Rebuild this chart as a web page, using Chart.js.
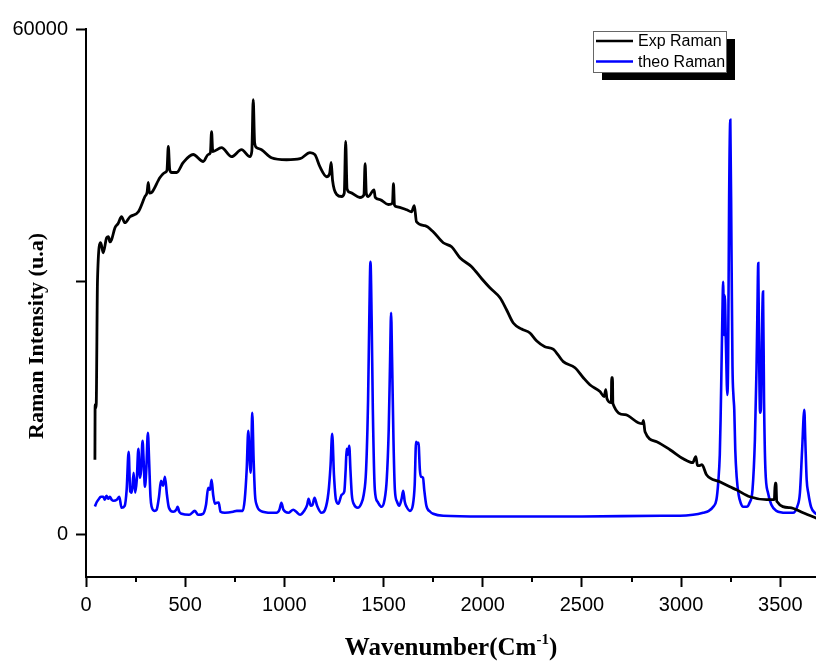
<!DOCTYPE html>
<html>
<head>
<meta charset="utf-8">
<script src="https://cdn.jsdelivr.net/npm/chart.js@4/dist/chart.umd.min.js"></script>
<style>
html, body { margin: 0; padding: 0; background: #fff; }
#wrap { width: 816px; height: 664px; }
</style>
</head>
<body>
<div id="wrap"><canvas id="raman" width="816" height="664"></canvas></div>
<script>
var expWave = [45,46,51,58,74,87,104,113,121,129,146,162,179,196,222,264,297,308,314,320,331,373,398,408,415,422,432,457,490,540,591,616,627,633,639,683,734,784,826,836,843,850,860,885,935,1011,1079,1129,1154,1179,1213,1228,1236,1243,1264,1289,1302,1309,1316,1331,1381,1401,1407,1413,1423,1452,1458,1482,1524,1545,1550,1555,1564,1616,1641,1655,1666,1708,1750,1801,1843,1885,1944,1995,2036,2087,2120,2154,2196,2238,2271,2313,2355,2406,2465,2507,2540,2591,2612,2620,2626,2648,2650,2654,2656,2717,2784,2805,2810,2818,2877,2944,3011,3058,3074,3082,3090,3105,3128,3195,3246,3279,3347,3431,3470,3474,3478,3482,3548,3615,3690];
var expInt = [8830,15370,15000,30200,34610,33420,35200,35320,34700,34970,36390,36900,37700,36990,37700,38290,40100,40600,41770,40500,40580,42360,42950,43200,46040,43300,42950,42950,44140,45090,44260,45090,45300,47820,45450,45900,44830,45660,44830,45500,51600,46500,45900,45660,44710,44470,44590,45310,45070,43640,42450,42800,44140,42000,40340,40100,40500,46640,41000,40580,39980,40300,44010,40500,40100,40900,40000,39740,39150,39300,41620,39100,38910,38530,38290,39000,37100,36630,35920,34610,34130,32830,31760,30330,29260,28070,26650,25070,24360,23890,22970,22260,21980,20490,19760,18570,17740,16930,16330,17160,16100,15610,18570,18570,15500,14180,13230,13110,13500,12160,10970,10020,8950,8480,9190,8200,8120,8240,7050,6210,5620,5260,4430,4080,4080,6060,6060,3900,3130,2530,1820];

// calculated spectrum
var theoWave = [45,55,62,75,87,95,103,112,120,130,140,155,168,179,195,205,215,223,231,240,248,256,264,272,278,285,291,297,304,312,318,325,331,345,356,368,378,388,398,408,418,440,455,462,470,482,520,549,565,590,605,616,625,633,641,650,660,669,678,700,742,760,790,800,810,818,826,830,834,838,845,852,860,880,935,960,975,985,995,1020,1045,1060,1079,1100,1115,1122,1133,1142,1152,1165,1187,1205,1222,1233,1241,1250,1260,1272,1289,1302,1309,1314,1319,1327,1333,1340,1352,1370,1385,1400,1412,1422,1428,1434,1440,1446,1456,1470,1490,1505,1516,1526,1533,1538,1543,1550,1557,1568,1579,1591,1599,1607,1616,1633,1648,1657,1664,1671,1676,1683,1689,1699,1705,1716,1735,1750,1801,2000,2500,2900,2994,3060,3111,3140,3162,3178,3187,3195,3199,3203,3208,3212,3216,3220,3226,3233,3237,3242,3248,3254,3259,3264,3268,3273,3280,3290,3300,3313,3330,3345,3360,3372,3380,3384,3389,3393,3398,3402,3407,3413,3418,3425,3438,3455,3480,3530,3564,3585,3599,3610,3621,3626,3633,3641,3655,3674,3690];
var theoInt = [3280,3840,4070,4430,4430,4070,4550,4190,4430,4070,3960,4070,4430,3130,3360,5290,9780,5050,4910,7290,4910,6450,10130,6690,7640,11090,8500,5620,7640,12030,8830,4430,3240,2760,2890,4430,6330,5740,6810,4670,3130,2650,2890,3240,2650,2410,2290,2760,2290,2410,3480,5500,5260,6450,4670,3600,3720,3750,2650,2530,2650,2760,2760,4070,7640,12270,8240,7290,10610,14410,8830,4670,3480,2760,2530,2530,2890,3720,2890,2530,2890,2650,2290,2760,3480,4190,3360,3480,4310,3360,2530,2890,4910,8240,11920,7050,4070,3600,4670,5030,7640,10130,9420,10490,7640,4670,3480,3130,3480,4670,7640,15960,25470,32350,25470,14770,5290,3840,3240,4070,6450,12390,20710,26290,20710,11200,5290,3840,3360,4190,5150,3840,3240,2760,3480,5860,10970,10730,10850,7640,6810,6690,5290,3360,2650,2410,2170,2090,2090,2170,2170,2290,2530,2760,3240,4070,6090,9420,13580,19000,26000,29980,23640,28350,22460,16520,20680,39700,49210,33740,19920,16360,14770,10010,6810,4670,3720,3240,3240,3720,5290,11200,19530,25450,32190,21900,14410,14770,23090,28820,15960,7640,4910,3480,2760,2530,2530,3240,4910,10010,14770,11200,6450,4910,3240,2530,2290];

var xMajorTicks = [0,500,1000,1500,2000,2500,3000,3500];
var xMinorTicks = [250,750,1250,1750,2250,2750,3250];
var yTicks = [0,30000,60000];
var yTickLabels = ["0","","60000"];

var seriesNames = ["Exp Raman", "theo Raman"];
var seriesColors = ["#000000", "#0000ff"];

function toPoints(xs, ys) {
	return xs.map(function (x, i) { return { x: x, y: ys[i] }; });
}

var tickFont = { family: "Liberation Sans", size: 20 };

var extras = {
	id: "extras",
	afterDraw: function (chart) {
		var ctx = chart.ctx;
		var xs = chart.scales.x;
		ctx.save();
		// minor ticks on x
		ctx.strokeStyle = "#000";
		ctx.lineWidth = 2;
		xMinorTicks.forEach(function (v) {
			var px = Math.round(xs.getPixelForValue(v));
			ctx.beginPath();
			ctx.moveTo(px, xs.top);
			ctx.lineTo(px, xs.top + 5);
			ctx.stroke();
		});

		// axis titles
		ctx.fillStyle = "#000";
		ctx.font = "bold 22px 'Liberation Serif'";
		ctx.textAlign = "center";
		ctx.textBaseline = "middle";
		ctx.save();
		ctx.translate(37, 336);
		ctx.rotate(-Math.PI / 2);
		ctx.fillText("Raman Intensity (u.a)", 0, 0);
		ctx.restore();

		var big = "bold 25px 'Liberation Serif'";
		var small = "bold 15px 'Liberation Serif'";
		ctx.textAlign = "left";
		ctx.textBaseline = "alphabetic";
		ctx.font = big;
		var w1 = ctx.measureText("Wavenumber(Cm").width;
		var w3 = ctx.measureText(")").width;
		ctx.font = small;
		var w2 = ctx.measureText("-1").width;
		var x0 = (xs.left + xs.right) / 2 - (w1 + w2 + w3) / 2;
		var base = 655;
		ctx.font = big;
		ctx.fillText("Wavenumber(Cm", x0, base);
		ctx.font = small;
		ctx.fillText("-1", x0 + w1, base - 11);
		ctx.font = big;
		ctx.fillText(")", x0 + w1 + w2, base);

		// legend with drop shadow
		var bx = 593, by = 31, bw = 133, bh = 41;
		ctx.fillStyle = "#000";
		ctx.fillRect(bx + 9, by + 8, bw, bh);
		ctx.fillStyle = "#fff";
		ctx.fillRect(bx, by, bw, bh);
		ctx.strokeStyle = "#666";
		ctx.lineWidth = 1;
		ctx.strokeRect(bx + 0.5, by + 0.5, bw, bh);
		ctx.font = "16px 'Liberation Sans'";
		ctx.textBaseline = "middle";
		chart.data.datasets.forEach(function (ds, i) {
			var ly = by + 10 + i * 20.5;
			ctx.strokeStyle = ds.borderColor;
			ctx.lineWidth = 2.5;
			ctx.beginPath();
			ctx.moveTo(bx + 3, ly);
			ctx.lineTo(bx + 40, ly);
			ctx.stroke();
			ctx.fillStyle = "#000";
			ctx.fillText(ds.label, bx + 45, ly + 1);
		});
		ctx.restore();
	}
};

var ramanChart = new Chart(document.getElementById("raman").getContext("2d"), {
	type: "line",
	data: {
		datasets: [{
			label: seriesNames[0],
			data: toPoints(expWave, expInt),
			borderColor: seriesColors[0],
			borderWidth: 2.8,
			pointRadius: 0,
			cubicInterpolationMode: "monotone",
			fill: false
		}, {
			label: seriesNames[1],
			data: toPoints(theoWave, theoInt),
			borderColor: seriesColors[1],
			borderWidth: 2.6,
			pointRadius: 0,
			cubicInterpolationMode: "monotone",
			fill: false
		}]
	},
	options: {
		responsive: false,
		animation: false,
		devicePixelRatio: 1,
		layout: { padding: { top: 29, right: 0, bottom: 0, left: 0 } },
		plugins: { legend: { display: false }, tooltip: { enabled: false } },
		scales: {
			x: {
				type: "linear",
				min: 0,
				max: 3680,
				afterBuildTicks: function (s) {
					s.ticks = xMajorTicks.map(function (v) { return { value: v }; });
				},
				afterFit: function (s) { s.height = 87; },
				ticks: {
					font: tickFont, color: "#000", padding: 6, maxRotation: 0, autoSkip: false,
					callback: function (v) { return String(v); }
				},
				grid: { drawOnChartArea: false, tickLength: 10, tickWidth: 2, tickColor: "#000" },
				border: { color: "#000", width: 2 }
			},
			y: {
				type: "linear",
				min: -5100,
				max: 60000,
				afterBuildTicks: function (s) {
					s.ticks = yTicks.map(function (v) { return { value: v }; });
				},
				afterFit: function (s) { s.width = 86; },
				ticks: {
					font: tickFont, color: "#000", padding: 8, autoSkip: false,
					callback: function (v) { return yTickLabels[yTicks.indexOf(v)]; }
				},
				grid: { drawOnChartArea: false, tickLength: 10, tickWidth: 2, tickColor: "#000" },
				border: { color: "#000", width: 2 }
			}
		}
	},
	plugins: [extras]
});
</script>
</body>
</html>
